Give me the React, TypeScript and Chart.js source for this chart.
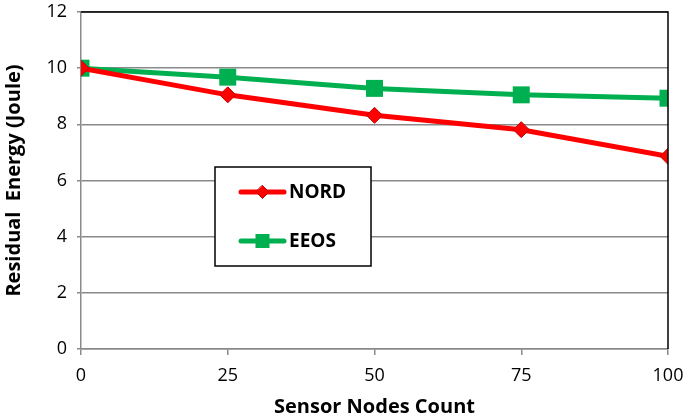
import React, { useEffect, useRef } from "react";
import { Chart, registerables } from "chart.js";

Chart.register(...registerables);

const xValues = [0, 25, 50, 75, 100];
const nordValues = [10, 9.05, 8.32, 7.81, 6.86];
const eeosValues = [10, 9.68, 9.28, 9.05, 8.93];
const seriesNames = ["NORD", "EEOS"];
const xTitle = "Sensor Nodes Count";
const yTitle = "Residual  Energy (Joule)";

const FONT = "'Open Sans', sans-serif";
const RED = "#FF0000";
const GREEN = "#00B050";
const GRID = "#8a8a8a";

const framePlugin = {
  id: "frameAndLegend",
  afterDatasetsDraw(chart: any) {
    const { ctx, chartArea } = chart;
    ctx.save();
    ctx.strokeStyle = "#000";
    ctx.lineWidth = 1.5;
    ctx.beginPath();
    ctx.moveTo(chartArea.left, chartArea.top);
    ctx.lineTo(chartArea.right, chartArea.top);
    ctx.lineTo(chartArea.right, chartArea.bottom);
    ctx.stroke();

    const bx = 215, by = 167, bw = 156, bh = 99;
    ctx.fillStyle = "#fff";
    ctx.fillRect(bx, by, bw, bh);
    ctx.strokeStyle = "#000";
    ctx.lineWidth = 1.5;
    ctx.strokeRect(bx, by, bw, bh);

    const items = chart.data.datasets;
    const rows = [192, 241];
    items.forEach((ds: any, i: number) => {
      const y = rows[i];
      ctx.strokeStyle = ds.borderColor;
      ctx.lineWidth = 5;
      ctx.lineCap = "round";
      ctx.beginPath();
      ctx.moveTo(241, y);
      ctx.lineTo(284, y);
      ctx.stroke();
      const cx = 262.5;
      ctx.fillStyle = ds.pointBackgroundColor;
      if (ds.pointStyle === "rectRot") {
        ctx.beginPath();
        ctx.moveTo(cx, y - 6.5);
        ctx.lineTo(cx + 6.5, y);
        ctx.lineTo(cx, y + 6.5);
        ctx.lineTo(cx - 6.5, y);
        ctx.closePath();
        ctx.fill();
        ctx.strokeStyle = ds.pointBorderColor;
        ctx.lineWidth = 1;
        ctx.stroke();
      } else {
        ctx.fillRect(cx - 7, y - 7, 14, 14);
      }
      ctx.fillStyle = "#000";
      ctx.font = `bold 19px ${FONT}`;
      ctx.textBaseline = "middle";
      ctx.textAlign = "left";
      ctx.fillText(ds.label, 289, y + 1);
    });
    ctx.restore();
  },
};

export default function App() {
  const ref = useRef<HTMLCanvasElement>(null);
  useEffect(() => {
    if (!ref.current) return;
    const chart = new Chart(ref.current, {
      type: "line",
      data: {
        datasets: [
          {
            label: seriesNames[0],
            data: xValues.map((x, i) => ({ x, y: nordValues[i] })),
            borderColor: RED,
            backgroundColor: RED,
            borderWidth: 5,
            pointStyle: "rectRot",
            pointRadius: 8,
            pointBackgroundColor: RED,
            pointBorderColor: "#C00000",
            pointBorderWidth: 1,
            tension: 0,
          },
          {
            label: seriesNames[1],
            data: xValues.map((x, i) => ({ x, y: eeosValues[i] })),
            borderColor: GREEN,
            backgroundColor: GREEN,
            borderWidth: 5,
            pointStyle: "rect",
            pointRadius: 12,
            pointBackgroundColor: GREEN,
            pointBorderColor: GREEN,
            pointBorderWidth: 0,
            tension: 0,
          },
        ] as any,
      },
      options: {
        animation: false,
        responsive: false,
        layout: { padding: { top: 11, right: 17, left: 0, bottom: 0 } },
        plugins: { legend: { display: false }, tooltip: { enabled: false } },
        scales: {
          x: {
            type: "linear",
            min: 0,
            max: 100,
            ticks: {
              stepSize: 25,
              color: "#000",
              font: { family: FONT, size: 18 },
              padding: 10,
            },
            grid: {
              drawOnChartArea: false,
              drawTicks: true,
              tickLength: 6,
              color: GRID,
              lineWidth: 1.5,
            },
            border: { color: GRID, width: 1.5 },
            title: {
              display: true,
              text: xTitle,
              color: "#000",
              font: { family: FONT, size: 20, weight: "bold" },
              padding: { top: 0, bottom: 0 },
            },
            afterFit(scale: any) {
              scale.height = 70;
              scale.paddingLeft = 0;
              scale.paddingRight = 0;
            },
          } as any,
          y: {
            min: 0,
            max: 12,
            ticks: {
              stepSize: 2,
              color: "#000",
              font: { family: FONT, size: 18 },
              padding: 10,
            },
            grid: {
              color: GRID,
              lineWidth: 1.5,
              drawTicks: true,
              tickLength: 4,
            },
            border: { color: GRID, width: 1.5 },
            title: {
              display: true,
              text: yTitle,
              color: "#000",
              font: { family: FONT, size: 20, weight: "bold" },
              padding: { top: 2, bottom: 4 },
            },
            afterFit(scale: any) {
              scale.width = 81;
              scale.paddingTop = 0;
              scale.paddingBottom = 0;
            },
          } as any,
        },
      },
      plugins: [framePlugin],
    });
    return () => chart.destroy();
  }, []);
  return (
    <div style={{ position: "fixed", left: 0, top: 0, width: 685, height: 419, background: "#fff" }}>
      <canvas ref={ref} width={685} height={419} style={{ width: 685, height: 419 }} />
    </div>
  );
}
